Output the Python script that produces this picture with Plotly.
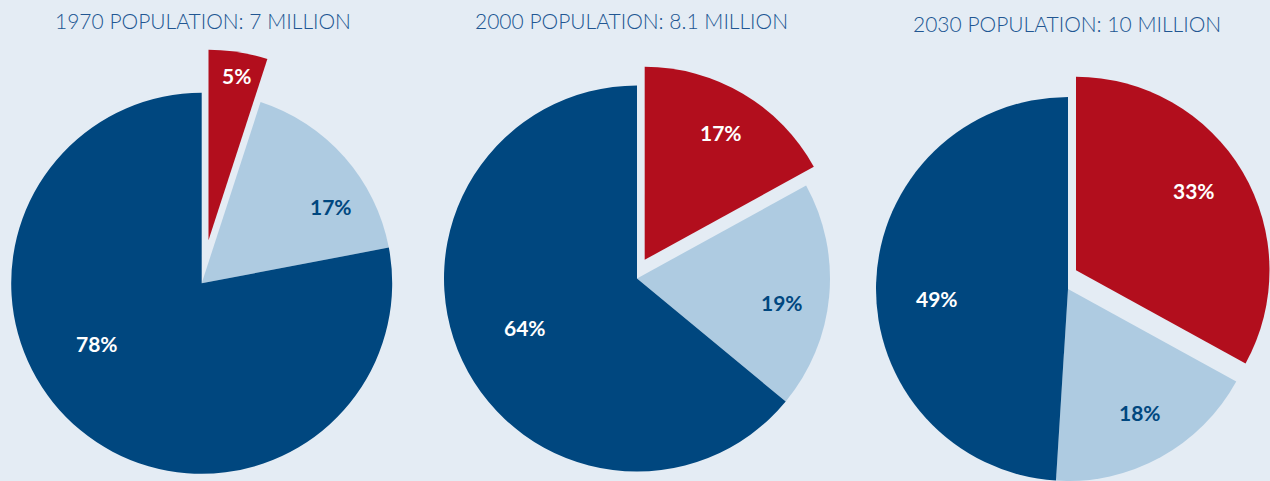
import plotly.graph_objects as go

# ---------------- data ----------------
titles = ["1970 POPULATION: 7 MILLION", "2000 POPULATION: 8.1 MILLION", "2030 POPULATION: 10 MILLION"]
segments = ["Group A", "Group B", "Group C"]
share_red = [5, 17, 33]
share_light = [17, 19, 18]
share_dark = [78, 64, 49]
label_text = [["5%", "17%", "78%"], ["17%", "19%", "64%"], ["33%", "18%", "49%"]]

# ---------------- style / layout constants ----------------
W, H = 1270, 481
BG = "#e4ecf4"
RED = "#b20e1d"
LIGHT = "#aecbe1"
DARK = "#00477f"
TITLE_COLOR = "#215692"
CLEAR = "rgba(0,0,0,0)"

# pie geometry in pixels: centre, radius, offset of the exploded red slice
centers = [(201.7, 283.3), (637.0, 278.5), (1068.0, 289.0)]
radii = [190.5, 193.0, 192.0]
red_offsets = [(6.8, -43.0), (7.7, -18.7), (8.0, -18.7)]
red_radii = [190.5, 193.0, 193.5]
title_pos = [(203, 20), (631, 20), (1067, 23)]
label_pos = [
    [(236, 75), (331, 206), (97, 343)],
    [(721, 132), (782, 302), (525, 327)],
    [(1194, 190), (1140, 412), (937, 298)],
]
label_colors = ["white", DARK, "white"]


def domain(cx, cy, r):
    x0 = max(0.0, (cx - r) / W)
    x1 = min(1.0, (cx + r) / W)
    y0 = max(0.0, (H - cy - r) / H)
    y1 = min(1.0, (H - cy + r) / H)
    return dict(x=[x0, x1], y=[y0, y1])


fig = go.Figure()
annotations = []
for i in range(3):
    vals = [share_red[i], share_light[i], share_dark[i]]
    cx, cy = centers[i]
    # main pie (red slice left empty)
    fig.add_trace(go.Pie(
        labels=segments, values=vals, sort=False, direction="clockwise", rotation=0,
        marker=dict(colors=[CLEAR, LIGHT, DARK], line=dict(width=0)),
        textinfo="none", domain=domain(cx, cy, radii[i]), hoverinfo="label+value",
        showlegend=False,
    ))
    # exploded red slice
    dx, dy = red_offsets[i]
    fig.add_trace(go.Pie(
        labels=segments, values=vals, sort=False, direction="clockwise", rotation=0,
        marker=dict(colors=[RED, CLEAR, CLEAR], line=dict(width=0)),
        textinfo="none", domain=domain(cx + dx, cy + dy, red_radii[i]), hoverinfo="skip",
        showlegend=False,
    ))
    tx, ty = title_pos[i]
    annotations.append(dict(
        text=titles[i], x=tx / W, y=1 - ty / H, xref="paper", yref="paper",
        xanchor="center", yanchor="middle", showarrow=False,
        font=dict(family="Lato, sans-serif", size=21, color=TITLE_COLOR, weight=300),
    ))
    for j in range(3):
        lx, ly = label_pos[i][j]
        annotations.append(dict(
            text=label_text[i][j], x=lx / W, y=1 - ly / H, xref="paper", yref="paper",
            xanchor="center", yanchor="middle", showarrow=False,
            font=dict(family="Lato, sans-serif", size=21, color=label_colors[j], weight="bold"),
        ))

fig.update_layout(
    width=W, height=H, margin=dict(l=0, r=0, t=0, b=0),
    paper_bgcolor=BG, plot_bgcolor=BG, showlegend=False,
    annotations=annotations,
)
fig.write_html(
    "out.html",
    config={"displayModeBar": False},
    post_script="document.body.style.margin='0';document.body.style.overflow='hidden';",
)
